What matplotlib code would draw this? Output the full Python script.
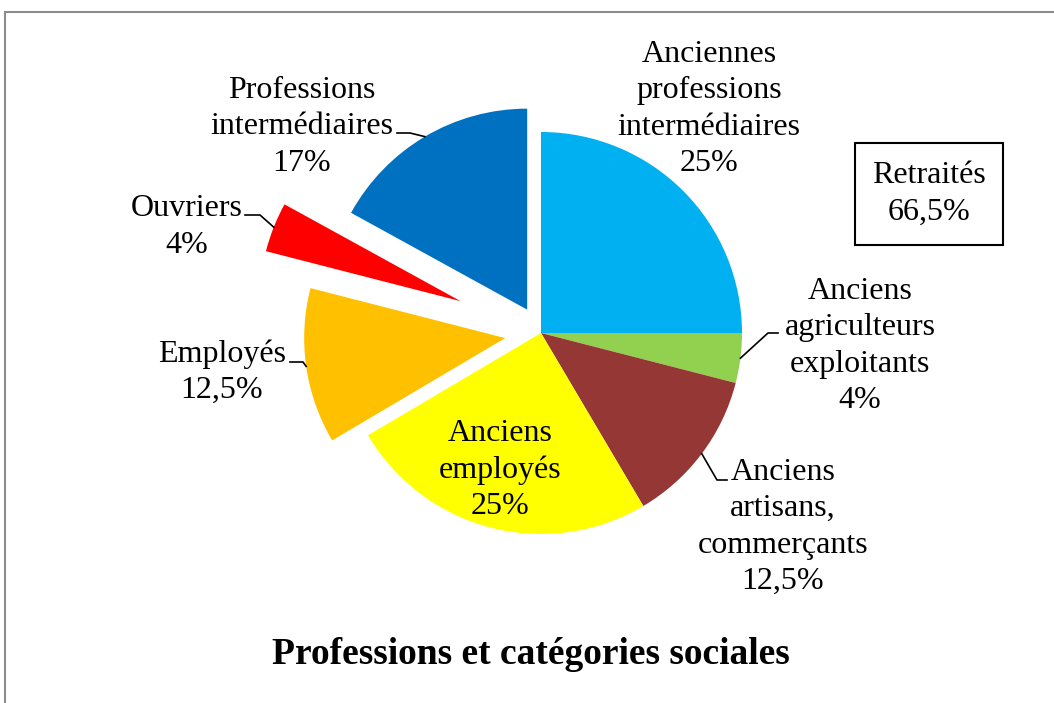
import matplotlib.pyplot as plt
from matplotlib.patches import Rectangle
import numpy as np

# categories, clockwise from 12 o'clock
categories = ['Anciennes\nprofessions\nintermédiaires',
              'Anciens\nagriculteurs\nexploitants',
              'Anciens\nartisans,\ncommerçants',
              'Anciens\nemployés',
              'Employés',
              'Ouvriers',
              'Professions\nintermédiaires']
values = [25, 4, 12.5, 25, 12.5, 4, 17]
retired = [True, True, True, True, False, False, False]
colors = ['#00B0F0', '#92D050', '#953735', '#FFFF00', '#FFC000', '#FF0000', '#0070C0']
explode_frac = [0, 0, 0, 0, 0.18, 0.43, 0.135]

W, H = 1054, 703
plt.rcParams['font.family'] = ['Liberation Serif', 'DejaVu Serif']


def fmt(v):
    return f'{v:g}'.replace('.', ',') + '%'


fig = plt.figure(figsize=(W / 100, H / 100), dpi=100)
ax = fig.add_axes([0, 0, 1, 1])

R = 201
cx, cy = 541, H - 333
wedges, _ = ax.pie(values, colors=colors, startangle=90, counterclock=False,
                   explode=[e * R for e in explode_frac],
                   center=(cx, cy), radius=R, wedgeprops=dict(linewidth=0))
ax.set_xlim(0, W)
ax.set_ylim(0, H)
ax.set_aspect('equal')
ax.axis('off')

# label centres (pixels from top-left) and leader elbow / end points
label_pos = [(709, 109), (860, 346), (783, 527), (500, 470),
             (222, 372), (187, 227), (302, 127)]
leaders = [None, ((768, 333), (778, 333)), ((717, 480), (727, 480)), None,
           ((303, 362), (290, 362)), ((260, 215), (245, 215)), ((410, 133), (397, 133))]

FS = 23
LS = 1.34
for w, name, v, (px, py), ld in zip(wedges, categories, values, label_pos, leaders):
    ax.text(px, H - py, f'{name}\n{fmt(v)}', ha='center', va='center',
            fontsize=FS, linespacing=LS)
    if ld is not None:
        th = np.deg2rad((w.theta1 + w.theta2) / 2)
        x0 = w.center[0] + w.r * np.cos(th)
        y0 = w.center[1] + w.r * np.sin(th)
        (ex, ey), (tx, ty) = ld
        ax.plot([x0, ex, tx], [y0, H - ey, H - ty], color='black', lw=1.2)

# total of retired categories
total_retired = sum(v for v, r in zip(values, retired) if r)
ax.add_patch(Rectangle((855, H - 245), 148, 102, fill=False, edgecolor='black', lw=1.5))
ax.text(929, H - 194, f'Retraités\n{fmt(total_retired)}', ha='center', va='center',
        fontsize=FS, linespacing=LS)

ax.text(531, H - 655, 'Professions et catégories sociales', ha='center', va='center',
        fontsize=27, fontweight='bold')

# outer chart frame (cut at right and bottom)
ax.add_patch(Rectangle((5, -20), W + 20, H - 12 + 20, fill=False,
                       edgecolor='#8c8c8c', lw=1.5, clip_on=False))

fig.savefig('out.png', dpi=100)
